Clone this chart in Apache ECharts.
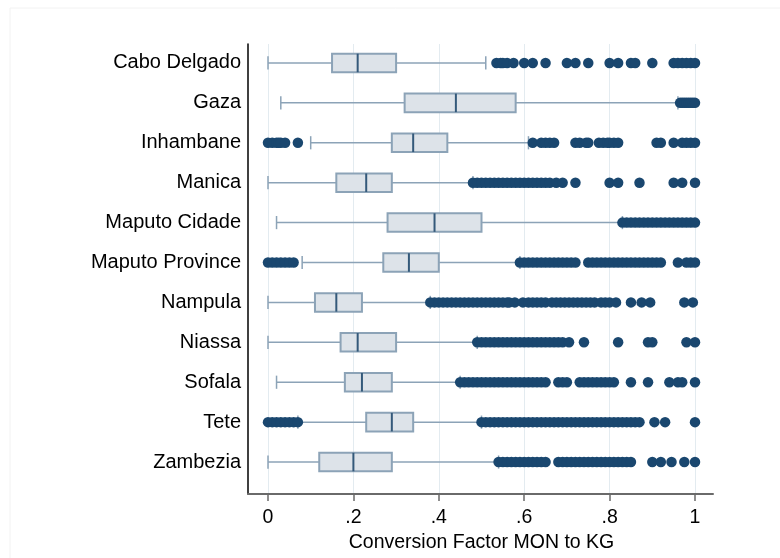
<!DOCTYPE html>
<html>
<head>
<meta charset="utf-8">
<script src="https://cdn.jsdelivr.net/npm/echarts@6/dist/echarts.min.js"></script>
<style>
html,body{margin:0;padding:0;background:#fff;}
#chart{width:780px;height:558px;}
</style>
</head>
<body>
<div id="chart"></div>
<script>
const categories = ['Cabo Delgado','Gaza','Inhambane','Manica','Maputo Cidade','Maputo Province','Nampula','Niassa','Sofala','Tete','Zambezia'];
const whiskerLow  = [0.00, 0.03, 0.10, 0.00, 0.02, 0.08, 0.00, 0.00, 0.02, 0.07, 0.00];
const quartile1   = [0.15, 0.32, 0.29, 0.16, 0.28, 0.27, 0.11, 0.17, 0.18, 0.23, 0.12];
const medians     = [0.21, 0.44, 0.34, 0.23, 0.39, 0.33, 0.16, 0.21, 0.22, 0.29, 0.20];
const quartile3   = [0.30, 0.58, 0.42, 0.29, 0.50, 0.40, 0.22, 0.30, 0.29, 0.34, 0.29];
const whiskerHigh = [0.51, 0.96, 0.61, 0.48, 0.83, 0.59, 0.38, 0.49, 0.45, 0.50, 0.54];

const outCaboDelgado = [0.535,0.545,0.55,0.56,0.575,0.6,0.62,0.65,0.7,0.72,0.75,0.8,0.82,0.85,0.86,0.9,0.95,0.96,0.97,0.98,0.99,1.0];
const outGaza = [0.965,0.97,0.975,0.98,0.985,0.99,0.995,1.0];
const outInhambane = [0,0.01,0.02,0.025,0.03,0.04,0.07,0.62,0.64,0.65,0.66,0.67,0.72,0.73,0.745,0.75,0.775,0.785,0.795,0.8,0.81,0.82,0.91,0.92,0.95,0.97,0.98,0.99,1.0];
const outManica = [0.48,0.49,0.5,0.51,0.52,0.53,0.54,0.55,0.56,0.57,0.58,0.59,0.6,0.61,0.62,0.63,0.64,0.65,0.66,0.675,0.69,0.72,0.8,0.82,0.87,0.95,0.97,1.0];
const outMaputoCidade = [0.83,0.84,0.85,0.86,0.87,0.88,0.89,0.9,0.91,0.92,0.93,0.94,0.95,0.96,0.97,0.98,0.99,1.0];
const outMaputoProvince = [0,0.01,0.02,0.03,0.04,0.05,0.06,0.59,0.6,0.61,0.62,0.63,0.64,0.65,0.66,0.67,0.68,0.69,0.7,0.71,0.72,0.75,0.76,0.77,0.78,0.79,0.8,0.81,0.82,0.83,0.84,0.85,0.86,0.87,0.88,0.89,0.9,0.91,0.92,0.96,0.98,0.99,1.0];
const outNampula = [0.38,0.39,0.4,0.41,0.42,0.43,0.44,0.45,0.46,0.47,0.48,0.49,0.5,0.51,0.52,0.53,0.54,0.55,0.56,0.565,0.578,0.597,0.61,0.62,0.63,0.64,0.65,0.665,0.675,0.685,0.695,0.705,0.715,0.725,0.735,0.745,0.755,0.765,0.78,0.79,0.8,0.815,0.85,0.875,0.895,0.975,0.995];
const outNiassa = [0.49,0.5,0.51,0.52,0.53,0.54,0.55,0.56,0.57,0.58,0.59,0.6,0.61,0.62,0.63,0.64,0.65,0.66,0.67,0.68,0.69,0.705,0.74,0.82,0.89,0.9,0.98,1.0];
const outSofala = [0.45,0.46,0.47,0.48,0.49,0.5,0.51,0.52,0.53,0.54,0.55,0.56,0.57,0.58,0.59,0.6,0.61,0.62,0.63,0.64,0.65,0.68,0.69,0.7,0.73,0.74,0.75,0.76,0.77,0.78,0.79,0.8,0.81,0.85,0.89,0.94,0.96,0.97,1.0];
const outTete = [0,0.01,0.02,0.03,0.04,0.05,0.06,0.07,0.5,0.51,0.52,0.53,0.54,0.55,0.56,0.57,0.58,0.59,0.6,0.61,0.62,0.63,0.64,0.65,0.66,0.67,0.68,0.69,0.7,0.71,0.72,0.73,0.74,0.75,0.76,0.77,0.78,0.79,0.8,0.81,0.82,0.83,0.84,0.85,0.86,0.87,0.905,0.93,1.0];
const outZambezia = [0.54,0.55,0.56,0.57,0.58,0.59,0.6,0.61,0.62,0.63,0.64,0.65,0.68,0.69,0.7,0.71,0.72,0.73,0.74,0.75,0.76,0.77,0.78,0.79,0.8,0.81,0.82,0.83,0.84,0.85,0.9,0.92,0.945,0.975,1.0];
const outliers = [outCaboDelgado,outGaza,outInhambane,outManica,outMaputoCidade,outMaputoProvince,outNampula,outNiassa,outSofala,outTete,outZambezia];

const tickValues = [0,0.2,0.4,0.6,0.8,1];
const tickLabels = ['0','.2','.4','.6','.8','1'];

const FONT = '"Liberation Sans", Arial, sans-serif';
const boxFill = '#dde3e9', boxLine = '#8ca3b7', medLine = '#34597a', dotColor = '#1a476f';

const boxData = categories.map((c,i)=>[i, whiskerLow[i], quartile1[i], medians[i], quartile3[i], whiskerHigh[i]]);
const dotData = [];
outliers.forEach((arr,i)=>arr.forEach(v=>dotData.push([v,i])));

const chart = echarts.init(document.getElementById('chart'), null, {renderer:'canvas'});
chart.setOption({
  animation:false,
  backgroundColor:'#fff',
  graphic:[{type:'rect', shape:{x:10,y:8,width:790,height:580}, style:{fill:'none', stroke:'#f2f2f2', lineWidth:1}, silent:true, z:-10}],
  grid:[
    {left:268, right:85, top:43, height:439},
    {left:248, right:67, top:44, bottom:64},
    {left:268, right:85, top:44, bottom:64}
  ],
  xAxis:[
    {gridIndex:0, type:'value', min:0, max:1, show:false},
    {gridIndex:1, type:'value', min:0, max:1,
     axisLine:{show:true, lineStyle:{color:'#6a6a6a', width:2}},
     axisTick:{show:false}, axisLabel:{show:false}, splitLine:{show:false}},
    {gridIndex:2, type:'value', min:0, max:1, interval:0.2,
     axisLine:{show:false},
     axisTick:{show:true, length:8, lineStyle:{color:'#6a6a6a', width:1.5}},
     axisLabel:{show:true, fontSize:19.5, color:'#000', fontFamily:FONT, margin:15,
       formatter:(v)=>tickLabels[tickValues.findIndex(t=>Math.abs(t-v)<1e-9)] ?? ''},
     splitLine:{show:true, lineStyle:{color:'#e3ebf0', width:1}},
     name:'Conversion Factor MON to KG', nameLocation:'middle', nameGap:32,
     nameTextStyle:{fontSize:19.5, color:'#000', fontFamily:FONT}}
  ],
  yAxis:[
    {gridIndex:0, type:'category', data:categories, inverse:true,
     axisLine:{show:false}, axisTick:{show:false}, splitLine:{show:false},
     axisLabel:{fontSize:20, color:'#000', fontFamily:FONT, margin:27}},
    {gridIndex:1, type:'value', min:0, max:1,
     axisLine:{show:true, lineStyle:{color:'#000', width:1.5}},
     axisTick:{show:false}, axisLabel:{show:false}, splitLine:{show:false}},
    {gridIndex:2, type:'value', min:0, max:1, show:false, splitLine:{show:false}}
  ],
  series:[
    {type:'custom', xAxisIndex:0, yAxisIndex:0, data:boxData,
     encode:{x:[1,2,3,4,5], y:0}, z:3,
     renderItem:(params, api)=>{
       const i = api.value(0);
       const yc = api.coord([0,i])[1];
       const band = api.size([0,1])[1];
       const bh = band*0.465, ch = band*0.33;
       const xs = [1,2,3,4,5].map(k=>api.coord([api.value(k), i])[0]);
       const ws = {stroke:boxLine, lineWidth:1.5};
       return {type:'group', children:[
         {type:'line', shape:{x1:xs[0],y1:yc,x2:xs[1],y2:yc}, style:ws},
         {type:'line', shape:{x1:xs[3],y1:yc,x2:xs[4],y2:yc}, style:ws},
         {type:'line', shape:{x1:xs[0],y1:yc-ch/2,x2:xs[0],y2:yc+ch/2}, style:ws},
         {type:'line', shape:{x1:xs[4],y1:yc-ch/2,x2:xs[4],y2:yc+ch/2}, style:ws},
         {type:'rect', shape:{x:xs[1],y:yc-bh/2,width:xs[3]-xs[1],height:bh}, style:{fill:boxFill, stroke:boxLine, lineWidth:2}},
         {type:'line', shape:{x1:xs[2],y1:yc-bh/2,x2:xs[2],y2:yc+bh/2}, style:{stroke:medLine, lineWidth:2}}
       ]};
     }},
    {type:'scatter', xAxisIndex:0, yAxisIndex:0, data:dotData, symbol:'circle', symbolSize:10.5,
     itemStyle:{color:dotColor, opacity:1}, z:4, clip:false}
  ]
});
</script>
</body>
</html>
